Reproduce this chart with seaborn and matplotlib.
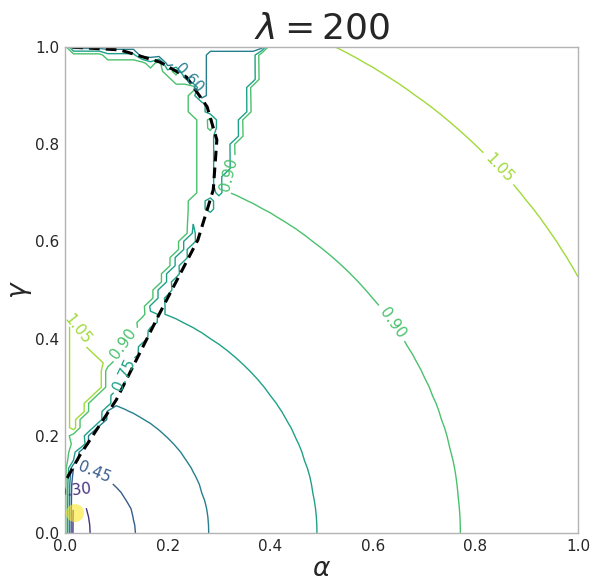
import numpy as np
import pandas as pd
import matplotlib
matplotlib.use("Agg")
import matplotlib.pyplot as plt
import seaborn as sns
from matplotlib.path import Path

# ---------------- data ----------------
alpha_grid = np.linspace(0.0, 1.0, 61)
gamma_grid = np.linspace(0.0, 1.0, 61)

# right-hand phase: value as a function of radius sqrt(alpha^2+gamma^2)
radius_knots = [0.0, 0.049, 0.136, 0.279, 0.49, 0.77, 1.13, 1.42]
radius_values = [0.22, 0.30, 0.45, 0.60, 0.75, 0.90, 1.05, 1.15]
# near the origin the field is squeezed along gamma
squeeze_r = [0.0, 0.10, 0.13]
squeeze_f = [0.5, 0.5, 1.0]

# dashed phase boundary
boundary_alpha = [0.004, 0.029, 0.100, 0.185, 0.259, 0.289, 0.296, 0.277, 0.237, 0.185, 0.107, 0.010]
boundary_gamma = [0.113, 0.160, 0.274, 0.453, 0.603, 0.706, 0.809, 0.877, 0.938, 0.969, 0.994, 1.000]

# left-hand phase value along gamma
left_gamma = [0.11, 0.15, 0.19, 0.23, 1.00]
left_values = [0.55, 0.75, 0.90, 0.97, 0.97]
left_edge_value = 0.97

# band inside the left phase along the boundary (inner edge = 0.90 line)
band_alpha = [0.000, 0.030, 0.088, 0.140, 0.234, 0.260, 0.263, 0.250, 0.237, 0.160, 0.050, 0.000]
band_gamma = [0.185, 0.240, 0.342, 0.418, 0.609, 0.747, 0.774, 0.860, 0.918, 0.965, 0.990, 0.995]
band_level_gamma = [0.18, 0.42, 0.47, 0.62, 0.66, 1.00]
band_level_value = [0.83, 0.83, 0.72, 0.72, 0.80, 0.80]

# wedge between the upper boundary and the line to (0.385, 1)
wedge_alpha = [0.262, 0.277, 0.308, 0.327, 0.354, 0.385, 0.390, 0.010]
wedge_gamma = [0.610, 0.638, 0.706, 0.788, 0.877, 1.000, 1.020, 1.020]
wedge_value = 0.67
wedge_corner = (0.275, 0.875)
wedge_corner_value = 0.52

# small high pocket at the left edge
pocket_alpha = [0.004, 0.055, 0.082, 0.078, 0.053, 0.030, 0.012, 0.004]
pocket_gamma = [0.455, 0.370, 0.340, 0.315, 0.274, 0.230, 0.205, 0.205]
pocket_value = 1.12

levels = [0.15, 0.30, 0.45, 0.60, 0.75, 0.90, 1.05, 1.20]
marker_alpha = [0.0195]
marker_gamma = [0.041]

# contour label spots
label_spots = [(0.848, 0.753), (0.64, 0.434), (0.318, 0.74), (0.244, 0.938),
               (0.03, 0.42), (0.105, 0.40), (0.11, 0.33), (0.06, 0.13), (0.02, 0.09)]

# ---------------- build the field ----------------
A, G = np.meshgrid(alpha_grid, gamma_grid)
R = np.hypot(A, G)
R_eff = np.hypot(A, G * np.interp(R, squeeze_r, squeeze_f))
Z = np.interp(R_eff, radius_knots, radius_values)
pts = np.column_stack([A.ravel(), G.ravel()])

# wedge
wedge_vertices = list(zip(wedge_alpha, wedge_gamma)) + \
    list(zip(boundary_alpha[::-1], boundary_gamma[::-1]))[:8]
inC = Path(wedge_vertices).contains_points(pts).reshape(A.shape)
Z[inC] = wedge_value
Z[inC & (A < wedge_corner[0]) & (G > wedge_corner[1])] = wedge_corner_value
Z[inC & (G > 0.995)] = wedge_corner_value

# left phase
bnd = np.interp(G, boundary_gamma, boundary_alpha) - 0.006
inA = (G >= boundary_gamma[0]) & (A < bnd)
Z[inA] = np.interp(G, left_gamma, left_values)[inA]
band_edge = np.interp(G, band_gamma, band_alpha)
band_val = np.interp(G, band_level_gamma, band_level_value)
inB = inA & (G >= band_gamma[0]) & (A > band_edge)
Z[inB] = np.minimum(Z[inB], band_val[inB])
topA = inA & (G > 0.995)
Z[topA] = band_val[topA]

inP = Path(list(zip(pocket_alpha, pocket_gamma))).contains_points(pts).reshape(A.shape)
Z[inP] = pocket_value
Z[:, 0] = left_edge_value

# ---------------- plot ----------------
sns.set_theme(style="whitegrid")
plt.rcParams["font.family"] = ["DejaVu Sans"]
fig = plt.figure(figsize=(6.10, 5.81), dpi=100)
ax = fig.add_axes([65 / 610, 1 - 533 / 581, 513 / 610, 486 / 581])
ax.grid(False)

cs = ax.contour(A, G, Z, levels=levels, cmap="viridis", linewidths=1.0)
ax.clabel(cs, fmt="%1.2f", fontsize=11, manual=label_spots, inline=True)

bdf = pd.DataFrame({"alpha": boundary_alpha, "gamma": boundary_gamma})
sns.lineplot(data=bdf, x="alpha", y="gamma", sort=False, estimator=None,
             color="black", linewidth=2.2, linestyle="--", ax=ax)
ax.lines[-1].set_dashes((3.5, 2))

mdf = pd.DataFrame({"alpha": marker_alpha, "gamma": marker_gamma})
sns.scatterplot(data=mdf, x="alpha", y="gamma", s=170, color="#fde725",
                alpha=0.6, edgecolor="none", ax=ax, zorder=5)

ax.set_xlim(0, 1)
ax.set_ylim(0, 1)
ax.set_xticks([0, 0.2, 0.4, 0.6, 0.8, 1.0])
ax.set_yticks([0, 0.2, 0.4, 0.6, 0.8, 1.0])
ax.tick_params(labelsize=11, length=0, pad=4)
for s in ax.spines.values():
    s.set_color("0.7")
    s.set_linewidth(1.0)
ax.set_xlabel(r"$\alpha$", fontsize=19, labelpad=2)
ax.set_ylabel(r"$\gamma$", fontsize=19, labelpad=1)
ax.set_title(r"$\lambda = 200$", fontsize=26, pad=6)

fig.savefig("out.png", dpi=100)
